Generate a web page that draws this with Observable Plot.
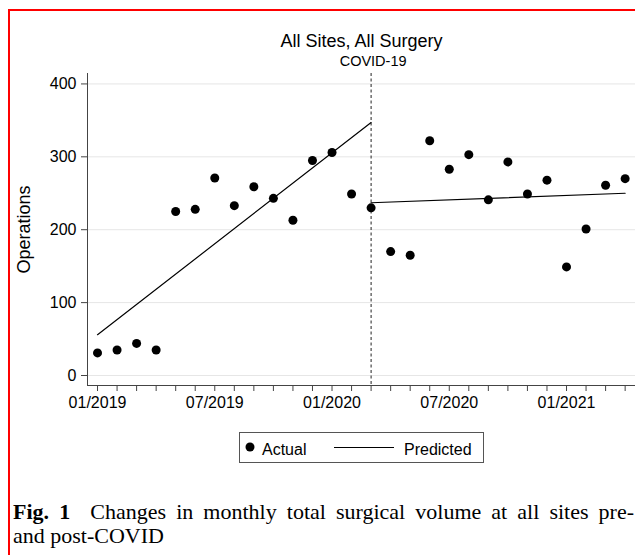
<!DOCTYPE html>
<html>
<head>
<meta charset="utf-8">
<script src="https://cdn.jsdelivr.net/npm/d3@7"></script>
<script src="https://cdn.jsdelivr.net/npm/@observablehq/plot@0.6"></script>
<style>
  html, body { margin: 0; padding: 0; background: #fff; overflow: hidden; }
  #page { position: relative; width: 635px; height: 555px; overflow: hidden; font-family: "Liberation Sans", Arial, Helvetica, sans-serif; }
  #frame { position: absolute; left: 8px; top: 9px; width: 700px; height: 700px; border-left: 2px solid #ff0000; border-top: 2px solid #ff0000; }
  #chart { position: absolute; left: 0; top: 0; }
  #legend { position: absolute; left: 0; top: 0; }
  .cap { position: absolute; left: 13px; font-family: "Liberation Serif", "Times New Roman", serif; font-size: 22px; line-height: 24px; color: #000; }
  #cap1 { top: 500px; width: 621px; text-align: justify; text-align-last: justify; white-space: nowrap; }
  #cap2 { top: 524px; }
</style>
</head>
<body>
<div id="page">
  <div id="frame"></div>
  <div id="chart"></div>
  <svg id="legend" width="635" height="555" style="pointer-events:none"></svg>
  <div class="cap" id="cap1"><b>Fig. 1</b>&nbsp; Changes in monthly total surgical volume at all sites pre-</div>
  <div class="cap" id="cap2">and post-COVID</div>
</div>
<script>
// ---- data ----
const monthLabels = ["01/2019","02/2019","03/2019","04/2019","05/2019","06/2019","07/2019","08/2019","09/2019","10/2019","11/2019","12/2019",
  "01/2020","02/2020","03/2020","04/2020","05/2020","06/2020","07/2020","08/2020","09/2020","10/2020","11/2020","12/2020",
  "01/2021","02/2021","03/2021","04/2021"];
const actualValues = [31,35,44,35,225,228,271,233,259,243,213,295,306,249,230,170,165,322,283,303,241,293,249,268,149,201,261,270];
const predPreMonths = ["01/2019","03/2020"];
const predPreValues = [56,347];
const predPostMonths = ["03/2020","04/2021"];
const predPostValues = [237,250];
const covidMonth = "03/2020";
const yTicks = [0,100,200,300,400];
const xTickLabels = ["01/2019","07/2019","01/2020","07/2020","01/2021"];
const titleText = "All Sites, All Surgery";
const covidText = "COVID-19";
const yLabel = "Operations";
const legendLabels = ["Actual","Predicted"];

// ---- build ----
const idx = m => monthLabels.indexOf(m);
const points = actualValues.map((v, i) => ({i, v}));
const pred = [
  ...predPreMonths.map((m, k) => ({i: idx(m), v: predPreValues[k], seg: "pre"})),
  ...predPostMonths.map((m, k) => ({i: idx(m), v: predPostValues[k], seg: "post"}))
];
const X0 = -0.513, X1 = 27.53;
const Y0 = -13.7, Y1 = 414.3;

const chart = Plot.plot({
  width: 635, height: 420,
  marginTop: 73, marginBottom: 35, marginLeft: 87, marginRight: 0,
  style: {fontFamily: '"Liberation Sans", Arial, Helvetica, sans-serif', fontSize: "16px", color: "#000", background: "transparent", overflow: "visible"},
  x: {type: "linear", domain: [X0, X1]},
  y: {domain: [Y0, Y1]},
  marks: [
    Plot.gridY(yTicks, {stroke: "#e6e6e6", strokeOpacity: 1}),
    Plot.ruleX([X0], {stroke: "#444"}),
    Plot.ruleY([Y0], {stroke: "#444"}),
    Plot.axisY(yTicks, {tickSize: 6, tickPadding: 5, stroke: "#444", label: null, tickFormat: d => String(d)}),
    Plot.axisX(d3.range(monthLabels.length), {tickSize: 6, tickPadding: 5, stroke: "#444", label: null,
      tickFormat: i => xTickLabels.includes(monthLabels[i]) ? monthLabels[i] : ""}),
    Plot.ruleX([idx(covidMonth)], {stroke: "#222", strokeDasharray: "3,2.5"}),
    Plot.line(pred, {x: "i", y: "v", z: "seg", stroke: "#000", strokeWidth: 1.2}),
    Plot.dot(points, {x: "i", y: "v", r: 4.5, fill: "#000"}),
    Plot.text([titleText], {text: d => d, frameAnchor: "top", dy: -39.5, fontSize: 18}),
    Plot.text([covidText], {text: d => d, x: () => idx(covidMonth), frameAnchor: "top", dy: -17.6, dx: 2, fontSize: 14.5}),
    Plot.text([yLabel], {text: d => d, frameAnchor: "left", textAnchor: "middle", lineAnchor: "middle", dx: -63, rotate: -90, fontSize: 18})
  ]
});
document.getElementById("chart").appendChild(chart);

// ---- legend ----
const lg = d3.select("#legend");
const g = lg.append("g").attr("font-family", '"Liberation Sans", Arial, Helvetica, sans-serif').attr("font-size", 16);
g.append("rect").attr("x", 239.5).attr("y", 432.5).attr("width", 244).attr("height", 30).attr("fill", "none").attr("stroke", "#555");
g.append("circle").attr("cx", 250).attr("cy", 447).attr("r", 4.5).attr("fill", "#000");
g.append("text").attr("x", 262).attr("y", 455).text(legendLabels[0]);
g.append("line").attr("x1", 334).attr("x2", 394).attr("y1", 447.5).attr("y2", 447.5).attr("stroke", "#000").attr("stroke-width", 1.2);
g.append("text").attr("x", 404).attr("y", 455).text(legendLabels[1]);
</script>
</body>
</html>
